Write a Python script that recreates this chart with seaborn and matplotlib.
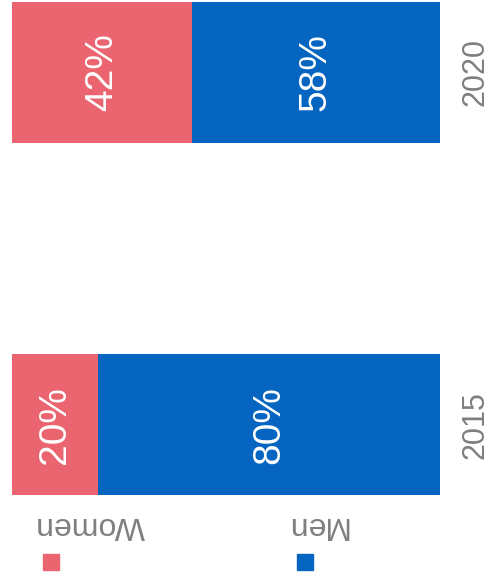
import matplotlib.pyplot as plt
import pandas as pd
import seaborn as sns
from matplotlib.patches import Rectangle

years = ["2020", "2015"]
women = [42, 20]
men = [58, 80]
series = ["Women", "Men"]

PINK = "#EB6570"
BLUE = "#0565C0"
GRAY = "#7F7F7F"

sns.set_theme(style="white")
plt.rcParams["font.family"] = ["Liberation Sans", "DejaVu Sans"]

df = pd.DataFrame({"year": years, "Women": women, "Men": men})
df["total"] = df["Women"] + df["Men"]

fig = plt.figure(figsize=(4.94, 5.8), dpi=100)
ax = fig.add_axes([12 / 494, 85 / 580, 428 / 494, 493 / 580])

# stacked bars: full total in blue, women segment over it
sns.barplot(data=df, x="total", y="year", orient="h", color=BLUE,
            width=0.4, saturation=1, linewidth=0, ax=ax)
sns.barplot(data=df, x="Women", y="year", orient="h", color=PINK,
            width=0.4, saturation=1, linewidth=0, ax=ax)

for i, (w, m) in enumerate(zip(women, men)):
    ax.text(w / 2, i, f"{w}%", rotation=90, ha="center", va="center",
            color="white", fontsize=28)
    ax.text(w + m / 2, i, f"{m}%", rotation=90, ha="center", va="center",
            color="white", fontsize=28)

ax.set_xlim(0, 100)
ax.set_ylim(1.2, -0.2)
ax.set_xlabel("")
ax.set_ylabel("")
ax.set_xticks([])
ax.yaxis.tick_right()
ax.tick_params(axis="y", length=0, pad=15, labelsize=22, labelcolor=GRAY)
for lab in ax.get_yticklabels():
    lab.set_rotation(90)
    lab.set_va("center")
sns.despine(ax=ax, left=True, bottom=True, top=True, right=True)

# legend drawn upside down, as in the reference
for name, col, sq_x, txt_x in [("Women", PINK, 43, 90), ("Men", BLUE, 297, 316)]:
    fig.patches.append(Rectangle((sq_x / 494, 10 / 580), 16 / 494, 16 / 580,
                                 transform=fig.transFigure, color=col))
    fig.text(txt_x / 494, 55 / 580, name, rotation=180, ha="center",
             va="center", color=GRAY, fontsize=23)

fig.savefig("out.png", dpi=100, facecolor="white")
